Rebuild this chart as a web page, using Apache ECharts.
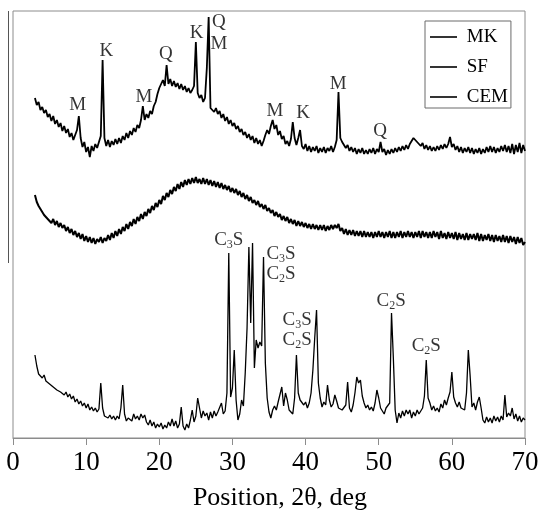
<!DOCTYPE html>
<html>
<head>
<meta charset="utf-8">
<script src="https://cdn.jsdelivr.net/npm/echarts@6/dist/echarts.min.js"></script>
<style>
html,body{margin:0;padding:0;background:#fff;}
#chart{width:538px;height:511px;}
</style>
</head>
<body>
<div id="chart"></div>
<script>
// Intensities (arbitrary units, offset per pattern), sampled every 0.25 deg from 3 to 70 deg 2-theta
const mk = [
340,333,336,328, 331,325,328,321, 324,317,322,314, 318,311,315,307, 312,305,309,301,
305,298,303,308, 322,300,291,296, 286,291,281,292, 287,294,290,296, 302,378,300,292,
298,291,297,293, 299,294,300,295, 302,298,305,300, 307,303,310,306, 313,310,318,332,
318,324,320,327, 324,332,336,344, 350,354,358,352, 373,354,359,352, 357,351,355,349,
354,348,352,346, 350,345,348,352, 396,345,340,343, 336,340,370,421, 330,332,326,330,
324,327,320,324, 317,321,314,318, 312,315,309,312, 306,309,303,306, 300,304,298,302,
295,300,294,298, 292,297,303,308, 304,312,318,309, 313,303,307,299, 302,294,297,292,
299,316,300,293, 300,308,292,289, 294,287,292,286, 291,287,292,285, 290,286,291,285,
290,287,292,286, 291,298,346,300, 296,298,290,293, 287,291,286,290, 284,289,285,290,
284,288,284,289, 285,290,284,289, 286,296,286,289, 283,288,284,289, 285,290,286,291,
287,292,288,293, 289,294,296,300, 302,296,298,292, 295,289,293,288, 292,287,291,287,
292,288,293,289, 294,290,294,301, 291,294,288,292, 286,291,285,290, 286,291,285,290,
284,289,285,290, 284,289,285,291, 286,292,286,291, 285,290,286,292, 287,293,286,292,
285,294,284,293, 286,295,285,293, 287
];
const sf = [
243,236,232,229, 228,223,225,219, 221,215,219,213, 217,211,215,210, 213,207,211,205,
209,203,207,201, 205,199,204,197, 202,196,201,195, 200,194,199,196, 201,195,200,197,
203,198,205,200, 207,202,209,204, 211,207,214,209, 216,212,219,214, 221,217,224,219,
226,222,229,225, 232,228,235,231, 238,234,242,238, 245,241,248,244, 251,247,254,249,
256,251,258,253, 259,254,260,255, 261,255,259,254, 260,254,259,253, 258,252,257,251,
256,250,255,249, 253,248,252,246, 250,245,249,243, 247,241,245,239, 243,237,241,235,
238,233,237,231, 234,229,233,227, 230,225,228,222, 226,221,224,218, 222,217,221,215,
219,214,218,212, 217,212,216,211, 215,210,214,209, 214,209,213,208, 213,208,213,207,
212,208,213,209, 213,210,214,207, 210,204,209,203, 208,203,208,202, 207,202,207,201,
207,201,206,201, 206,200,206,201, 207,201,206,200, 206,201,207,200, 206,200,206,201,
207,200,206,201, 207,201,206,200, 206,201,207,200, 207,201,206,200, 206,200,207,201,
206,199,207,200, 205,199,206,200, 205,199,206,198, 205,199,204,198, 205,198,204,199,
204,198,205,197, 204,197,203,198, 204,197,203,196, 203,197,202,196, 203,196,202,195,
202,196,201,194, 201,195,200,193, 196
];
const cem = [
83,72,64,66, 60,63,57,59, 54,56,51,53, 48,50,46,48, 43,46,41,44,
39,42,36,39, 34,37,32,35, 30,34,28,31, 27,30,26,29, 55,30,22,24,
20,23,19,22, 18,22,19,30, 53,24,17,20, 22,17,24,19, 22,18,24,20,
23,16,13,18, 12,16,10,14, 11,15,9,13, 10,16,12,19, 12,17,10,14,
31,12,8,14, 10,18,28,16, 22,40,30,20, 27,22,25,18, 26,20,27,22,
26,24,35,24, 27,45,185,41, 50,88,38,18, 24,38,32,65, 110,191,115,195,
70,98,90,96, 92,181,75,40, 26,20,28,32, 28,36,38,51, 32,45,38,28,
30,24,40,83, 45,38,40,33, 36,30,35,45, 68,100,128,55, 40,31,36,33,
53,38,31,34, 43,37,30,32, 28,26,33,56, 30,26,33,45, 61,55,58,42,
35,30,33,28, 31,27,35,48, 40,30,28,24, 30,28,35,125, 80,28,15,25,
20,27,22,28, 24,28,20,26, 22,28,24,27, 30,42,78,40, 35,28,32,27,
30,26,34,30, 38,33,40,46, 66,41,35,31, 36,30,31,28, 45,88,62,31,
35,28,36,41, 30,18,15,21, 16,20,15,22, 17,21,16,22, 18,43,21,25,
22,30,19,24, 17,22,16,20, 18
];
const seriesNames = ['MK', 'SF', 'CEM'];
const xTicks = [0, 10, 20, 30, 40, 50, 60, 70];

// Phase annotations: [2theta, intensity, label]
const mkLabels = [
  [8.86, 333, 'M'], [12.75, 387, 'K'], [17.9, 341, 'M'], [20.9, 384, 'Q'],
  [25.1, 405, 'K'], [28.15, 416, 'Q'], [28.15, 394, 'M'], [35.8, 327, 'M'],
  [39.65, 325, 'K'], [44.45, 354, 'M'], [50.2, 307, 'Q']
];
const cemLabels = [
  [29.5, 198, 'C{s|3}S'], [36.65, 184, 'C{s|3}S'], [36.65, 164, 'C{s|2}S'],
  [38.85, 118, 'C{s|3}S'], [38.85, 98, 'C{s|2}S'], [51.7, 137, 'C{s|2}S'],
  [56.5, 92, 'C{s|2}S']
];

const twoTheta = mk.map((_, i) => 3 + 0.25 * i);
const pairs = arr => arr.map((v, i) => [twoTheta[i], v]);
const serif = '"Liberation Serif", "Times New Roman", serif';
const widths = [1.8, 2.0, 1.3];

const chart = echarts.init(document.getElementById('chart'), null, {renderer: 'canvas'});
const lineSeries = [mk, sf, cem].map((arr, k) => ({
  name: seriesNames[k],
  type: 'line',
  data: pairs(arr),
  showSymbol: false,
  symbol: 'none',
  lineStyle: {color: '#000', width: widths[k]},
  itemStyle: {color: '#000'},
  animation: false,
  silent: true
}));
const labelSeries = (labels) => ({
  type: 'scatter',
  data: labels,
  symbolSize: 0,
  silent: true,
  animation: false,
  label: {
    show: true,
    position: 'inside',
    formatter: p => p.data[2],
    color: '#000',
    fontFamily: serif,
    fontSize: 19,
    rich: {
      s: {fontSize: 12, fontFamily: serif, color: '#000', padding: [9, 0, 0, 0]}
    }
  }
});

chart.setOption({
  backgroundColor: '#fff',
  animation: false,
  grid: {left: 13, right: 13, top: 11, bottom: 73, show: true, borderColor: '#8c8c8c', borderWidth: 1,
    containLabel: false, outerBoundsMode: 'none'},
  xAxis: {
    type: 'value', min: 0, max: 70, interval: 10,
    name: 'Position, 2\u03b8, deg', nameLocation: 'middle', nameGap: 47,
    nameTextStyle: {fontFamily: serif, fontSize: 26, color: '#000', padding: [0, 0, 0, 22]},
    axisLine: {show: true, lineStyle: {color: '#8c8c8c'}},
    axisTick: {show: true, inside: false, length: 7, lineStyle: {color: '#8c8c8c'}},
    axisLabel: {fontFamily: serif, fontSize: 27, color: '#000', margin: 11,
      formatter: v => xTicks.includes(v) ? String(v) : ''},
    splitLine: {show: false}
  },
  yAxis: {type: 'value', min: 0, max: 427, show: false},
  legend: {
    data: seriesNames, orient: 'vertical', left: 425, top: 21,
    padding: [6, 3, 1, 5], itemGap: 10, itemWidth: 27, itemHeight: 1.6,
    icon: 'rect',
    formatter: name => ' ' + name,
    borderColor: '#6b6b6b', borderWidth: 1, backgroundColor: '#fff',
    textStyle: {fontFamily: serif, fontSize: 19, color: '#000', lineHeight: 20},
    itemStyle: {color: '#000'}
  },
  graphic: [{type: 'line', shape: {x1: 8.5, y1: 11, x2: 8.5, y2: 263}, style: {stroke: '#555', lineWidth: 1}}],
  series: lineSeries.concat([labelSeries(mkLabels), labelSeries(cemLabels)])
});
</script>
</body>
</html>
